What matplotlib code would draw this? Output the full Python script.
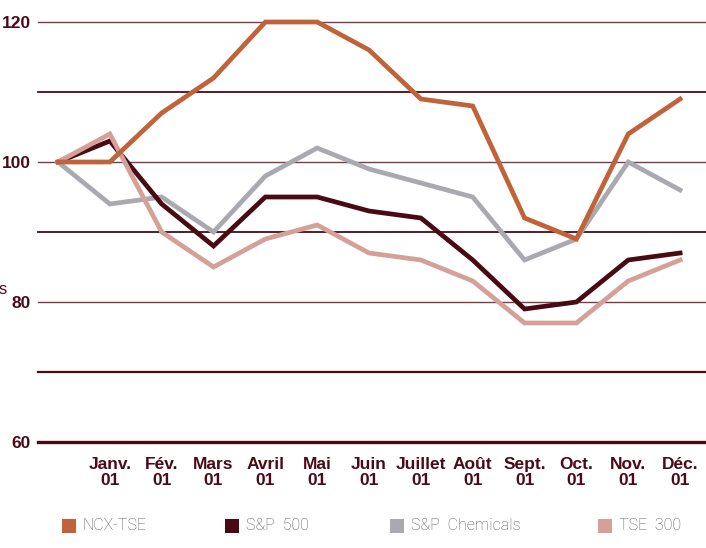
import matplotlib
matplotlib.use("Agg")
import matplotlib.pyplot as plt
from matplotlib.patches import Rectangle

months = ["", "Janv.\n01", "Fév.\n01", "Mars\n01", "Avril\n01", "Mai\n01", "Juin\n01",
          "Juillet\n01", "Août\n01", "Sept.\n01", "Oct.\n01", "Nov.\n01", "Déc.\n01"]
ncx = [100, 100, 107, 112, 120, 120, 116, 109, 108, 92, 89, 104, 109]
sp500 = [100, 103, 94, 88, 95, 95, 93, 92, 86, 79, 80, 86, 87]
chem = [100, 94, 95, 90, 98, 102, 99, 97, 95, 86, 89, 100, 96]
tse = [100, 104, 90, 85, 89, 91, 87, 86, 83, 77, 77, 83, 86]
yticks = [60, 80, 100, 120]
series_names = ["NCX-TSE", "S&P  500", "S&P  Chemicals", "TSE  300"]
colors = ["#c0623a", "#4a0a14", "#a9a9b0", "#d4a097"]

W, H = 706, 548
fig = plt.figure(figsize=(W / 100, H / 100), dpi=100)
ax = fig.add_axes([38 / W, (H - 442) / H, 1 - 38 / W, (442 - 22) / H])
ax.set_xlim(-0.386, 12.5)
ax.set_ylim(60, 120)

maroon = "#4a0a18"
light = "#7e3a47"
grid_styles = {120: (1.0, light), 110: (1.3, maroon), 100: (1.0, light),
               90: (1.3, maroon), 80: (1.0, light), 70: (1.6, maroon), 60: (2.4, maroon)}
for yv, (lw, c) in grid_styles.items():
    ax.axhline(yv, color=c, lw=lw, zorder=1, clip_on=False)

x = list(range(len(months)))
for data, col, z in [(chem, colors[2], 3), (sp500, colors[1], 4), (tse, colors[3], 5), (ncx, colors[0], 6)]:
    ax.plot(x, data, color=col, lw=3.4, zorder=z, clip_on=False, solid_joinstyle="miter")

for s in ax.spines.values():
    s.set_visible(False)
ax.set_xticks(x[1:])
ax.set_xticklabels(months[1:], fontsize=12.5, fontweight="bold", color=maroon,
                   family="Liberation Sans", linespacing=1.1)
ax.set_yticks(yticks)
ax.set_yticklabels([str(v) for v in yticks], fontsize=12.5, fontweight="bold",
                   color=maroon, family="Liberation Sans")
ax.tick_params(axis="both", length=0)
ax.tick_params(axis="x", pad=11)
ax.tick_params(axis="y", pad=5)

fig.text(-0.002, (H - 290) / H, "s", fontsize=12, color=maroon, family="Liberation Sans",
         va="center", ha="left")

leg_x = [62, 225, 390, 598]
for lx, name, col in zip(leg_x, series_names, colors):
    fig.add_artist(Rectangle((lx / W, (H - 533) / H), 14 / W, 14 / H, transform=fig.transFigure,
                             facecolor=col, edgecolor="none"))
    fig.text((lx + 21) / W, (H - 526) / H, name, fontsize=11.5, color="#555555",
             family=["Liberation Sans Narrow", "Roboto", "DejaVu Sans"], fontweight="light",
             va="center", ha="left")

fig.savefig("out.png", dpi=100)
